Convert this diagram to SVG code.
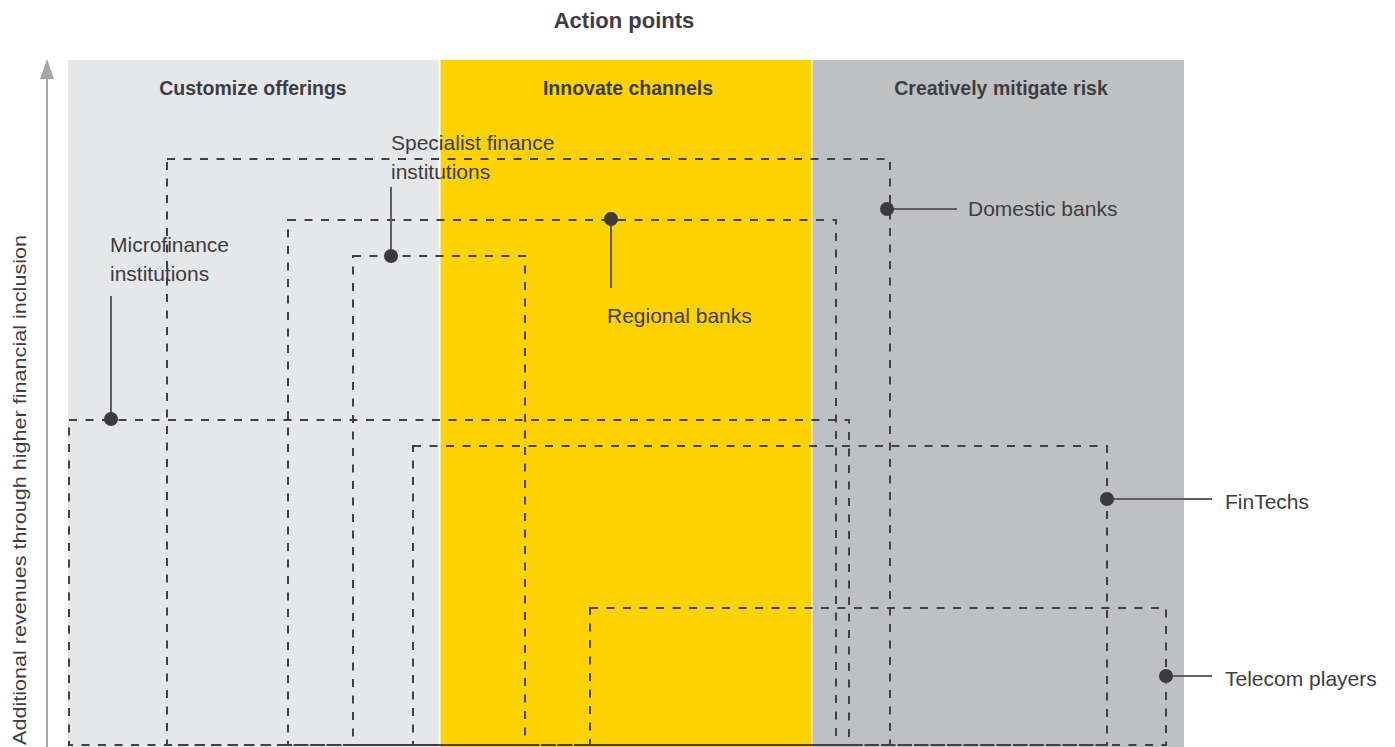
<svg xmlns="http://www.w3.org/2000/svg" width="1395" height="747" viewBox="0 0 1395 747">
<style>
.panel-light{fill:#e6e7e9}
.panel-yellow{fill:#ffd300}
.panel-gray{fill:#bfc0c2}
.head{font-family:"Liberation Sans",Arial,sans-serif;font-weight:bold;font-size:19.5px;fill:#3d3d42;text-anchor:middle}
.title{font-size:22px}
.lbl{font-family:"Liberation Sans",Arial,sans-serif;font-size:21px;fill:#3d3d42}
.axislbl{font-size:19px}
.box{fill:none;stroke:#404045;stroke-width:2;stroke-dasharray:8 8.5}
.lead{stroke:#5f5f63;stroke-width:2;fill:none}
.dot{fill:#3a3a3f}
</style>
<rect width="1395" height="747" fill="#ffffff"/>
<g id="panels">
<rect class="panel-light" x="68" y="60" width="370.5" height="687"/>
<rect class="panel-yellow" x="440.5" y="60" width="371" height="687"/>
<rect class="panel-gray" x="812.5" y="60" width="371.5" height="687"/>
<text class="head title" x="624" y="28">Action points</text>
<text class="head" x="253" y="95">Customize offerings</text>
<text class="head" x="628" y="95">Innovate channels</text>
<text class="head" x="1001" y="95">Creatively mitigate risk</text>
</g>
<g id="axis">
<line x1="47" y1="747" x2="47" y2="76" stroke="#a6a6a8" stroke-width="2"/>
<polygon points="40,79 54,79 47,59" fill="#a6a6a8"/>
<text class="lbl axislbl" transform="translate(26,490) rotate(-90)" text-anchor="middle" textLength="510" lengthAdjust="spacingAndGlyphs">Additional revenues through higher financial inclusion</text>
</g>
<g id="connectors">
<rect class="box" x="69" y="420" width="780" height="325"/>
<rect class="box" x="167" y="159" width="723" height="586"/>
<rect class="box" x="288" y="220" width="548" height="525"/>
<rect class="box" x="353" y="256" width="172" height="489"/>
<rect class="box" x="413" y="446" width="694" height="299"/>
<rect class="box" x="590" y="608" width="576" height="137"/>
<line class="lead" x1="111" y1="419" x2="111" y2="296"/>
<line class="lead" x1="391" y1="256" x2="391" y2="187"/>
<line class="lead" x1="611" y1="219" x2="611" y2="288"/>
<line class="lead" x1="887" y1="209" x2="957" y2="209"/>
<line class="lead" x1="1107" y1="499" x2="1212" y2="499"/>
<line class="lead" x1="1166" y1="676" x2="1212" y2="676"/>
</g>
<g id="microfinance">
<circle class="dot" cx="111" cy="419" r="7"/>
<text class="lbl" x="110" y="252">Microfinance</text>
<text class="lbl" x="110" y="281">institutions</text>
</g>
<g id="specialist">
<circle class="dot" cx="391" cy="256" r="7"/>
<text class="lbl" x="391" y="150">Specialist finance</text>
<text class="lbl" x="391" y="179">institutions</text>
</g>
<g id="regional">
<circle class="dot" cx="611" cy="219" r="7"/>
<text class="lbl" x="607" y="323">Regional banks</text>
</g>
<g id="domestic">
<circle class="dot" cx="887" cy="209" r="7"/>
<text class="lbl" x="968" y="216">Domestic banks</text>
</g>
<g id="fintechs">
<circle class="dot" cx="1107" cy="499" r="7"/>
<text class="lbl" x="1225" y="509">FinTechs</text>
</g>
<g id="telecom">
<circle class="dot" cx="1166" cy="676" r="7"/>
<text class="lbl" x="1225" y="686">Telecom players</text>
</g>
</svg>
